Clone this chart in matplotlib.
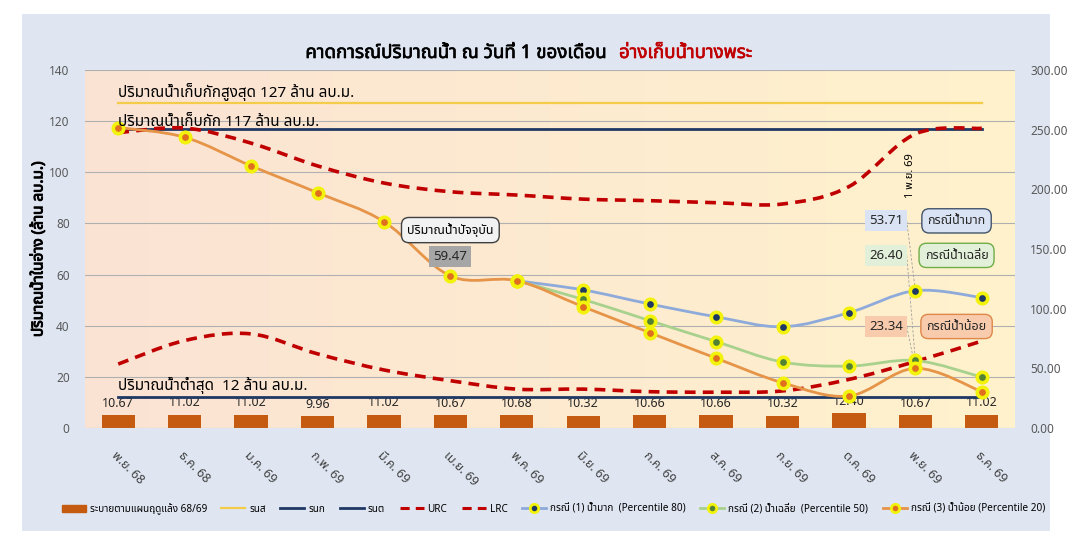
import numpy as np
import matplotlib
matplotlib.use("Agg")
import matplotlib.pyplot as plt
import matplotlib.patheffects as pe
from matplotlib import font_manager
from matplotlib.ft2font import FT2Font
from matplotlib.path import Path
from matplotlib.patches import PathPatch, Patch, Rectangle
from matplotlib.lines import Line2D

# ข้อมูล (ล้าน ลบ.ม.)
months = ["พ.ย. 68", "ธ.ค. 68", "ม.ค. 69", "ก.พ. 69", "มี.ค. 69", "เม.ย. 69", "พ.ค. 69",
          "มิ.ย. 69", "ก.ค. 69", "ส.ค. 69", "ก.ย. 69", "ต.ค. 69", "พ.ย. 69", "ธ.ค. 69"]
release = [10.67, 11.02, 11.02, 9.96, 11.02, 10.67, 10.68, 10.32, 10.66, 10.66, 10.32, 12.40, 10.67, 11.02]
cap_max = 127
cap_normal = 117
cap_min = 12
urc = [115.5, 117.3, 111.4, 102.5, 95.8, 92.4, 91.1, 89.5, 88.9, 88.1, 87.6, 94.4, 115.0, 117.2]
lrc = [25.0, 34.2, 36.8, 29.0, 22.7, 18.5, 15.2, 15.2, 14.2, 14.0, 14.5, 19.0, 26.0, 34.0]
nan = np.nan
case_wet = [nan] * 6 + [57.6, 54.0, 48.5, 43.5, 39.6, 45.1, 53.71, 51.0]
case_avg = [nan] * 6 + [57.6, 50.3, 42.0, 33.8, 25.8, 24.2, 26.40, 19.9]
case_dry = [117.5, 113.7, 102.5, 92.0, 80.7, 59.47, 57.6, 47.4, 37.3, 27.3, 17.7, 12.5, 23.34, 14.2]
current_idx = 5
nov_idx = 12


def find_thai_font():
    prefer = ["Noto Sans Thai", "Noto Sans Thai UI", "Sarabun", "Tahoma", "Loma", "Garuda",
              "Waree", "Norasi", "Kinnari", "Tlwg Typo"]
    found = []
    for f in font_manager.fontManager.ttflist:
        try:
            if FT2Font(f.fname).get_char_index(ord("ก")):
                found.append(f.name)
        except Exception:
            pass
    for name in prefer:
        if name in found:
            return name
    return found[0] if found else "DejaVu Sans"


thai = find_thai_font()
plt.rcParams["font.family"] = ["Noto Sans", thai, "DejaVu Sans"]


def smooth_path(xs, ys):
    # เส้นโค้งแบบ smooth line ของ Excel (Catmull-Rom -> Bezier)
    pts = np.array([(x, y) for x, y in zip(xs, ys) if not np.isnan(y)])
    n = len(pts)
    verts = [pts[0]]
    codes = [Path.MOVETO]
    for i in range(n - 1):
        p0 = pts[max(i - 1, 0)]
        p1 = pts[i]
        p2 = pts[i + 1]
        p3 = pts[min(i + 2, n - 1)]
        verts += [p1 + (p2 - p0) / 6, p2 - (p3 - p1) / 6, p2]
        codes += [Path.CURVE4] * 3
    return Path(verts, codes)


W, H = 1070, 533
fig = plt.figure(figsize=(W / 100, H / 100), dpi=100, facecolor="white")
fig.patches.append(Rectangle((22 / W, 2 / H), 1028 / W, 517 / H, transform=fig.transFigure,
                             fc="#dfe6f2", ec="none", zorder=-10))

ax2 = fig.add_axes([85 / W, 1 - 428 / H, 930 / W, 358 / H])
ax = ax2.twinx()
ax.yaxis.tick_left()
ax2.yaxis.tick_right()
ax.set_zorder(ax2.get_zorder() + 1)
ax.patch.set_visible(False)

# พื้นหลังไล่สี
grad = np.linspace(0, 1, 256)
c_left = np.array([251, 227, 212]) / 255
c_right = np.array([255, 242, 204]) / 255
img = (c_left[None, :] * (1 - grad[:, None]) + c_right[None, :] * grad[:, None])[None, :, :]
ax2.imshow(img, extent=[0, 1, 0, 1], transform=ax2.transAxes, aspect="auto", zorder=0)

x = np.arange(len(months))

# แท่งระบายน้ำ (แกนขวา)
bars = ax2.bar(x, release, width=0.5, color="#c55a11", zorder=1)
ax2.bar_label(bars, labels=[f"{v:.2f}" for v in release], padding=4, fontsize=9, color="#262626")

# เส้นระดับเก็บกัก
ax.plot(x, [cap_max] * len(x), color="#f5cb4a", lw=1.6, zorder=2)
ax.plot(x, [cap_normal] * len(x), color="#1f3864", lw=2, zorder=2)
ax.plot(x, [cap_min] * len(x), color="#1f3864", lw=2, zorder=2)

# URC / LRC
for rc in (urc, lrc):
    ax.add_patch(PathPatch(smooth_path(x, rc), fill=False, ec="#c00000", lw=2.6,
                           ls=(0, (3, 2)), zorder=3))

cases = [
    (case_wet, "#8eaadb", "#1f3864", "กรณี (1) น้ำมาก  (Percentile 80)"),
    (case_avg, "#a9d18e", "#548235", "กรณี (2) น้ำเฉลี่ย  (Percentile 50)"),
    (case_dry, "#e69448", "#e07020", "กรณี (3) น้ำน้อย (Percentile 20)"),
]
for vals, lc, mc, _ in cases:
    ax.add_patch(PathPatch(smooth_path(x, vals), fill=False, ec=lc, lw=2, zorder=4))
for vals, lc, mc, _ in cases:
    ax.plot(x, vals, ls="none", marker="o", ms=7.5, mfc=mc, mec="#f2f20a", mew=2.6, zorder=5)

# ข้อความเส้นระดับ
ax.text(0, cap_max + 0.8, "ปริมาณน้ำเก็บกักสูงสุด 127 ล้าน ลบ.ม.", fontsize=11, va="bottom", ha="left", zorder=6)
ax.text(0, cap_normal - 0.6, "ปริมาณน้ำเก็บกัก 117 ล้าน ลบ.ม.", fontsize=11, va="bottom", ha="left", zorder=6)
ax.text(0, cap_min + 1.2, "ปริมาณน้ำต่ำสุด  12 ล้าน ลบ.ม.", fontsize=11, va="bottom", ha="left", zorder=6)

# ป้ายปริมาณน้ำปัจจุบัน
ax.text(current_idx, 77.4, "ปริมาณน้ำปัจจุบัน", fontsize=9, ha="center", va="center", zorder=7,
        bbox=dict(boxstyle="round,pad=0.45,rounding_size=0.6", fc="#f2f2f2", ec="#404040", lw=1))
ax.text(current_idx, 67.0, f"{case_dry[current_idx]:.2f}", fontsize=9.5, ha="center", va="center", zorder=7,
        color="#262626", bbox=dict(boxstyle="square,pad=0.3", fc="#a6a6a6", ec="none"))

# ป้ายกรณีเดือน พ.ย. 69
labels = [
    (case_wet[nov_idx], 81.0, "#dae3f3", "#44546a", "กรณีน้ำมาก"),
    (case_avg[nov_idx], 67.5, "#e2f0d9", "#70ad47", "กรณีน้ำเฉลี่ย"),
    (case_dry[nov_idx], 39.7, "#f8cbad", "#e0884a", "กรณีน้ำน้อย"),
]
for val, ypos, fc, ec, name in labels:
    ax.plot([11.87, nov_idx], [ypos, val], color="#a0a0a0", lw=0.6, ls=(0, (3, 2)), zorder=4)
    ax.text(11.56, ypos, f"{val:.2f}", fontsize=9.5, ha="center", va="center", zorder=7, color="#262626",
            bbox=dict(boxstyle="square,pad=0.3", fc=fc, ec="none"))
    ax.text(12.62, ypos, name, fontsize=9, ha="center", va="center", zorder=7, color="#262626",
            bbox=dict(boxstyle="round,pad=0.45,rounding_size=0.6", fc=fc, ec=ec, lw=1))
ax.text(11.93, 98.6, "1 พ.ย. 69", fontsize=8, rotation=90, ha="center", va="center", zorder=7)

# แกน
ax.set_xlim(-0.5, 13.5)
ax.set_ylim(0, 140)
ax.set_yticks(np.arange(0, 141, 20))
ax2.set_ylim(0, 300)
ax2.set_yticks(np.arange(0, 301, 50))
ax2.set_yticklabels([f"{v:.2f}" for v in np.arange(0, 301, 50)])
ax.set_xticks(x)
ax2.set_xticks(x)
ax2.set_xticklabels(months, rotation=-45, ha="left", va="top", rotation_mode="anchor", fontsize=9, color="#404040")
ax.grid(True, color="#b0b0b0", lw=0.8)
ax.set_axisbelow(True)
for a in (ax, ax2):
    for s in a.spines.values():
        s.set_visible(False)
ax.tick_params(axis="both", length=0, labelsize=8.5, labelcolor="#595959", pad=11)
ax.tick_params(axis="x", labelbottom=False)
ax2.tick_params(axis="y", length=0, labelsize=8.5, labelcolor="#595959", pad=11)
ax2.tick_params(axis="x", length=0, pad=15)
ax.set_ylabel("ปริมาณน้ำในอ่าง (ล้าน ลบ.ม.)", fontsize=11, labelpad=2,
              path_effects=[pe.withStroke(linewidth=0.7, foreground="black")])
ax.yaxis.set_label_position("left")

# ชื่อกราฟ
fig.text(607 / W, 1 - 53 / H, "คาดการณ์ปริมาณน้ำ ณ วันที่ 1 ของเดือน", fontsize=13.5,
         ha="right", va="center", color="black",
         path_effects=[pe.withStroke(linewidth=0.45, foreground="black")])
fig.text(619 / W, 1 - 53 / H, "อ่างเก็บน้ำบางพระ", fontsize=13.5,
         ha="left", va="center", color="#c00000",
         path_effects=[pe.withStroke(linewidth=0.45, foreground="#c00000")])

# คำอธิบาย
handles = [
    Patch(color="#c55a11", label="ระบายตามแผนฤดูแล้ง 68/69"),
    Line2D([], [], color="#f5cb4a", lw=1.6, label="รนส"),
    Line2D([], [], color="#1f3864", lw=2, label="รนก"),
    Line2D([], [], color="#1f3864", lw=2, label="รนต"),
    Line2D([], [], color="#c00000", lw=2.2, ls=(0, (3, 2)), label="URC"),
    Line2D([], [], color="#c00000", lw=2.2, ls=(0, (3, 2)), label="LRC"),
]
for vals, lc, mc, name in cases:
    handles.append(Line2D([], [], color=lc, lw=2, marker="o", ms=6, mfc=mc, mec="#f2f20a", mew=2, label=name))
fig.legend(handles=handles, loc="center", bbox_to_anchor=(0.517, 1 - 509 / H), ncol=9, frameon=False,
           fontsize=7.2, handlelength=2.4, columnspacing=1.45, handletextpad=0.4)

fig.savefig("out.png", dpi=100)
